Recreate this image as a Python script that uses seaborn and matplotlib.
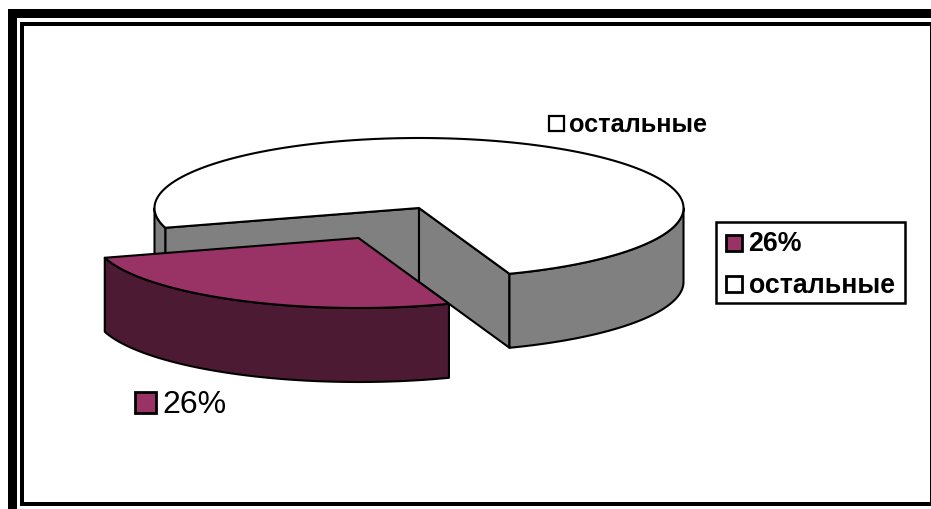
import numpy as np
import matplotlib
matplotlib.use("Agg")
import matplotlib.pyplot as plt
import seaborn as sns
from matplotlib.patches import Polygon, Rectangle

# ---- data ----
categories = ["26%", "остальные"]
shares = [26, 74]
colors = ["#993366", "#ffffff"]
wall_colors = ["#4d1a33", "#808080"]

sns.set_theme(style="white")
plt.rcParams["font.family"] = ["Liberation Sans", "DejaVu Sans"]

fig = plt.figure(figsize=(9.31, 5.10), dpi=100)
ax = fig.add_axes([0, 0, 1, 1])
ax.set_xlim(0, 931)
ax.set_ylim(510, 0)
ax.axis("off")

CX, CY, RX, RY, DEPTH = 419, 209, 264.5, 70, 74
START = 20.0
OFFSET = (-60.5, 30.0)
LW = 1.5


def arc(t0, t1, cx=CX, cy=CY, n=200):
    t = np.radians(np.linspace(t0, t1, n))
    return np.column_stack([cx + RX * np.sin(t), cy + RY * np.cos(t)])


def poly(pts, fc, z, lw=LW):
    ax.add_patch(Polygon(pts, closed=True, fc=fc, ec="black", lw=lw, joinstyle="round", zorder=z))


sweep = shares[0] / sum(shares) * 360
a0 = START            # right-hand cut, degrees from the front of the ellipse
a1 = START - sweep    # left-hand cut
down = np.array([0, DEPTH])

# remaining slice
c = np.array([CX, CY])
p0 = arc(a0, a0, n=1)[0]
p1 = arc(a1, a1, n=1)[0]
# inner cut walls
poly([c, p1, p1 + down, c + down], wall_colors[1], 2)
poly([c, p0, p0 + down, c + down], wall_colors[1], 2)
# outer rim (visible front parts)
r = arc(a0, 90)
poly(np.vstack([r, (r + down)[::-1]]), wall_colors[1], 2.5)
r = arc(-90, a1)
poly(np.vstack([r, (r + down)[::-1]]), wall_colors[1], 2.5)
# top
poly(np.vstack([[c], arc(a0, a1 + 360, n=500)]), colors[1], 3)

# exploded slice
ex, ey = CX + OFFSET[0], CY + OFFSET[1]
r = arc(a1, a0, ex, ey)
poly(np.vstack([r, (r + down)[::-1]]), wall_colors[0], 4)
poly(np.vstack([[[ex, ey]], r]), colors[0], 5)


def swatch(x, y, s, fc, lw=2.0):
    ax.add_patch(Rectangle((x, y), s, s, fc=fc, ec="black", lw=lw, zorder=8))


def label(x, y, s, size, weight="normal"):
    ax.text(x, y, s, fontsize=size, fontweight=weight, color="black", va="center", ha="left", zorder=9)


# data labels
swatch(135, 393, 21, colors[0])
label(162, 405, categories[0], 23)
swatch(548.5, 116.5, 15, colors[1], 1.6)
label(569, 125, categories[1], 18.2, "bold")

# legend
ax.add_patch(Rectangle((716, 222.5), 189, 81, fc="white", ec="black", lw=1.8, zorder=7))
swatch(725.5, 235.5, 16, colors[0])
label(748, 244, categories[0], 19.3, "bold")
swatch(725.5, 276.5, 16, colors[1])
label(749, 286, categories[1], 19.3, "bold")

# frame
K = "black"
for xy, w, h in [((8, 10), 923, 9), ((8, 10), 9, 500), ((20, 23), 911, 4), ((20, 23), 4, 484),
                 ((20, 503), 911, 4), ((930, 23), 1, 484)]:
    ax.add_patch(Rectangle(xy, w, h, fc=K, ec="none", zorder=10))

fig.savefig("out.png", dpi=100)
